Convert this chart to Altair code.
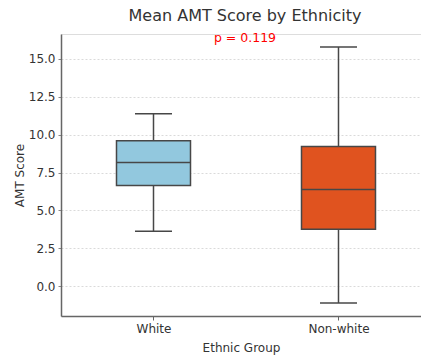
import altair as alt
import pandas as pd

# Box-plot summary of AMT scores per ethnic group
groups = ["White", "Non-white"]
whisker_low = [3.62, -1.12]
q1 = [6.64, 3.75]
median = [8.16, 6.38]
q3 = [9.60, 9.21]
whisker_high = [11.38, 15.79]
box_colors = ["#92c8de", "#e0531f"]
p_label = "p = 0.119"
y_ticks = [0.0, 2.5, 5.0, 7.5, 10.0, 12.5, 15.0]

df = pd.DataFrame({
    "group": groups,
    "pos": list(range(len(groups))),
    "lo": whisker_low,
    "q1": q1,
    "med": median,
    "q3": q3,
    "hi": whisker_high,
    "color": box_colors,
})

FONT = "DejaVu Sans"
EDGE = "#474747"

xscale = alt.Scale(domain=[-0.5, 1.446], nice=False, zero=False)
yscale = alt.Scale(domain=[-1.98, 16.65], nice=False, zero=False)

label_expr = "datum.value == 0 ? 'White' : 'Non-white'"

base = alt.Chart(df).transform_calculate(
    box_l="datum.pos - 0.2",
    box_r="datum.pos + 0.2",
    cap_l="datum.pos - 0.1",
    cap_r="datum.pos + 0.1",
)

x_axis = alt.Axis(
    values=[0, 1], labelExpr=label_expr, title="Ethnic Group", grid=False,
    labelFontSize=12, titleFontSize=12, labelPadding=3, titlePadding=8,
    tickSize=4, tickColor="#666", domainColor="#666", domainWidth=1.5,
    labelColor="#333", titleColor="#333", titleFontWeight="normal",
    labelFont=FONT, titleFont=FONT,
)
y_axis = alt.Axis(
    values=y_ticks, format=".1f", title="AMT Score",
    labelFontSize=12, titleFontSize=12, labelPadding=3, titlePadding=2,
    tickSize=3, tickColor="#888", domainColor="#666", domainWidth=1.5,
    labelColor="#333", titleColor="#333", titleFontWeight="normal",
    labelFont=FONT, titleFont=FONT,
    grid=True, gridColor="#d6d6d6", gridDash=[2, 2], gridWidth=0.9,
)

whisker_lo = base.mark_rule(color=EDGE, strokeWidth=1.5).encode(
    x=alt.X("pos:Q", scale=xscale, axis=x_axis),
    y=alt.Y("lo:Q", scale=yscale, axis=y_axis),
    y2="q1:Q",
)
whisker_hi = base.mark_rule(color=EDGE, strokeWidth=1.5).encode(
    x="pos:Q", y="q3:Q", y2="hi:Q",
)
cap_lo = base.mark_rule(color=EDGE, strokeWidth=1.5).encode(
    x="cap_l:Q", x2="cap_r:Q", y="lo:Q",
)
cap_hi = base.mark_rule(color=EDGE, strokeWidth=1.5).encode(
    x="cap_l:Q", x2="cap_r:Q", y="hi:Q",
)
boxes = base.mark_bar(stroke=EDGE, strokeWidth=1.5, opacity=1).encode(
    x="box_l:Q", x2="box_r:Q", y="q1:Q", y2="q3:Q",
    fill=alt.Fill("color:N", scale=None),
)
medians = base.mark_rule(color=EDGE, strokeWidth=1.5).encode(
    x="box_l:Q", x2="box_r:Q", y="med:Q",
)
p_text = alt.Chart(pd.DataFrame({"label": [p_label]})).mark_text(
    color="red", fontSize=12.5, font=FONT, baseline="middle", align="center"
).encode(
    text="label:N", x=alt.value(184), y=alt.value(4),
)

chart = alt.layer(
    whisker_lo, whisker_hi, cap_lo, cap_hi, boxes, medians, p_text
).properties(
    width=360,
    height=282,
    title=alt.TitleParams(
        "Mean AMT Score by Ethnicity", fontSize=16, font=FONT,
        fontWeight="normal", color="#333", offset=8, dx=4,
    ),
    autosize=alt.AutoSizeParams(type="none"),
    padding={"left": 61, "top": 34, "right": 0, "bottom": 39},
).configure_view(stroke=None).configure(background="white")

chart.save("out.html", embed_options={"renderer": "svg", "actions": False})
